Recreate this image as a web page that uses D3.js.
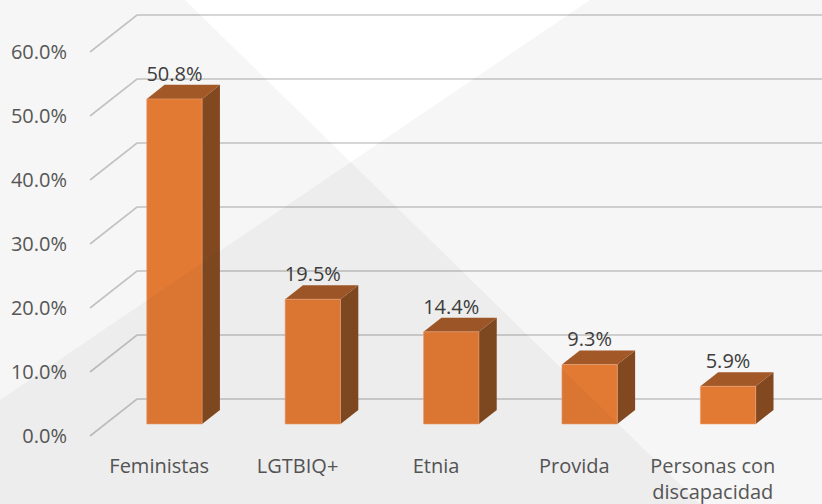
<!DOCTYPE html>
<html>
<head>
<meta charset="utf-8">
<script src="https://cdn.jsdelivr.net/npm/d3@7"></script>
<style>
  body { margin: 0; background: #fff; }
  text { font-family: "Open Sans", sans-serif; }
</style>
</head>
<body>
<div id="chart"></div>
<script>
var categories = ["Feministas", "LGTBIQ+", "Etnia", "Provida", "Personas con discapacidad"];
var values = [50.8, 19.5, 14.4, 9.3, 5.9];
var yTicks = [0, 10, 20, 30, 40, 50, 60];

var width = 822, height = 504;
// depth of the 3D floor (front edge -> back wall)
var depthX = 47, depthY = 37;
var barZ0 = 0.324, barZ1 = 0.703;

var svg = d3.select("#chart").append("svg")
  .attr("width", width)
  .attr("height", height);

var x = d3.scaleBand().domain(categories).range([90, 782]).paddingInner(0.6).paddingOuter(0.3);
var y = d3.scaleLinear().domain([0, 60]).range([436, 52]);

function proj(px, v, z) {
  return [px + z * depthX, y(v) - z * depthY];
}

// gridlines: side wall diagonal + back wall horizontal
var grid = svg.append("g").attr("class", "grid");
yTicks.forEach(function(t) {
  var a = proj(90, t, 0), b = proj(90, t, 1);
  grid.append("path")
    .attr("d", "M" + a + "L" + b + "H" + (782 + depthX))
    .attr("fill", "none")
    .attr("stroke", "#c9c9c9")
    .attr("stroke-width", 1.6);
});

// y axis labels
svg.append("g")
  .attr("transform", "translate(90,0)")
  .call(d3.axisLeft(y).tickValues(yTicks).tickSize(0).tickPadding(23)
    .tickFormat(function(d) { return d.toFixed(1) + "%"; }))
  .call(function(g) { g.select(".domain").remove(); })
  .selectAll("text")
  .attr("font-family", "Open Sans")
  .attr("font-size", 20)
  .attr("fill", "#595959");

// bars
var bars = svg.append("g").selectAll("g.bar")
  .data(categories)
  .enter().append("g").attr("class", "bar");

function pts(arr) { return arr.map(function(p) { return p.join(","); }).join(" "); }

bars.append("polygon") // side face
  .attr("points", function(d, i) {
    var x1 = x(d) + x.bandwidth();
    return pts([proj(x1, 0, barZ0), proj(x1, 0, barZ1), proj(x1, values[i], barZ1), proj(x1, values[i], barZ0)]);
  })
  .attr("fill", "#874b22");

bars.append("polygon") // top face
  .attr("points", function(d, i) {
    var x0 = x(d), x1 = x(d) + x.bandwidth();
    return pts([proj(x0, values[i], barZ0), proj(x1, values[i], barZ0), proj(x1, values[i], barZ1), proj(x0, values[i], barZ1)]);
  })
  .attr("fill", "#a85b28");

bars.append("polygon") // front face
  .attr("points", function(d, i) {
    var x0 = x(d), x1 = x(d) + x.bandwidth();
    return pts([proj(x0, 0, barZ0), proj(x1, 0, barZ0), proj(x1, values[i], barZ0), proj(x0, values[i], barZ0)]);
  })
  .attr("fill", "#ec7e36")
  .attr("stroke", "#f3a878")
  .attr("stroke-width", 0.6);

// value labels
bars.append("text")
  .attr("x", function(d) { return proj(x(d) + x.bandwidth() / 2, 0, barZ0)[0]; })
  .attr("y", function(d, i) { return proj(0, values[i], barZ1)[1] - 4; })
  .attr("text-anchor", "middle")
  .attr("font-size", 20)
  .attr("fill", "#404040")
  .text(function(d, i) { return values[i].toFixed(1) + "%"; });

// category labels (wrap long ones)
var cat = svg.append("g").selectAll("text")
  .data(categories)
  .enter().append("text")
  .attr("x", function(d) { return x(d) + x.bandwidth() / 2; })
  .attr("y", 473)
  .attr("text-anchor", "middle")
  .attr("font-size", 20)
  .attr("fill", "#595959");

cat.each(function(d) {
  var lines = d === "Personas con discapacidad" ? ["Personas con", "discapacidad"] : [d];
  var t = d3.select(this);
  lines.forEach(function(l, k) {
    t.append("tspan")
      .attr("x", t.attr("x"))
      .attr("dy", k === 0 ? 0 : 26)
      .text(l);
  });
});

// translucent background decoration, laid over everything
svg.append("polygon")
  .attr("points", "0,0 185,0 700,504 0,504")
  .attr("fill", "#102020")
  .attr("opacity", 0.04)
  .attr("pointer-events", "none");
svg.append("polygon")
  .attr("points", "0,400 590,0 822,0 822,504 0,504")
  .attr("fill", "#102020")
  .attr("opacity", 0.04)
  .attr("pointer-events", "none");
</script>
</body>
</html>
